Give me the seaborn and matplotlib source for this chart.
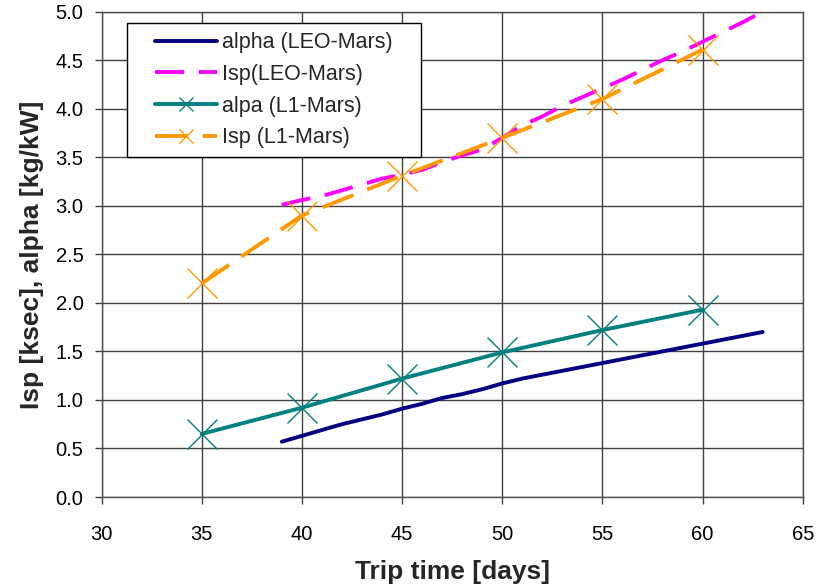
import matplotlib
matplotlib.use("Agg")
import matplotlib.pyplot as plt
from matplotlib.patches import Rectangle
import seaborn as sns
import numpy as np

# Data
days_leo = [39, 40, 41, 42, 43, 44, 45, 46, 47, 48, 49, 50, 51, 52, 53, 54, 55, 56, 57, 58, 59, 60, 61, 62, 63]
alpha_leo = [0.57, 0.63, 0.69, 0.75, 0.80, 0.85, 0.91, 0.96, 1.02, 1.06, 1.11, 1.17, 1.22, 1.26, 1.30, 1.34, 1.38, 1.42, 1.46, 1.50, 1.54, 1.58, 1.62, 1.66, 1.70]
isp_leo = [3.01, 3.06, 3.10, 3.16, 3.22, 3.28, 3.32, 3.37, 3.45, 3.52, 3.58, 3.70, 3.83, 3.92, 4.03, 4.12, 4.21, 4.30, 4.40, 4.50, 4.59, 4.69, 4.79, 4.89, 5.00]

days_l1 = [35, 40, 45, 50, 55, 60]
alpha_l1 = [0.65, 0.92, 1.22, 1.49, 1.72, 1.93]
isp_l1 = [2.20, 2.90, 3.31, 3.70, 4.10, 4.61]

x_ticks = [30, 35, 40, 45, 50, 55, 60, 65]
y_ticks = [0.0, 0.5, 1.0, 1.5, 2.0, 2.5, 3.0, 3.5, 4.0, 4.5, 5.0]

sns.set_style("white")
plt.rcParams['font.family'] = ['Liberation Sans', 'DejaVu Sans']

fig = plt.figure(figsize=(8.16, 5.87), dpi=100)
ax = fig.add_axes([0.1244, 0.1533, 0.8593, 0.8268])

LW = 2.8
sns.lineplot(x=days_leo, y=alpha_leo, ax=ax, color='#000080', lw=LW,
             label='alpha (LEO-Mars)', solid_capstyle='round')
sns.lineplot(x=days_leo, y=isp_leo, ax=ax, color='#FF00FF', lw=LW,
             label='Isp(LEO-Mars)')
ax.lines[-1].set_dashes([7.5, 3.8])
sns.lineplot(x=days_l1, y=alpha_l1, ax=ax, color='#008080', lw=LW,
             marker='x', markersize=21, markeredgewidth=1.0,
             markeredgecolor='#008080', label='alpa (L1-Mars)')
sns.lineplot(x=days_l1, y=isp_l1, ax=ax, color='#FF9900', lw=LW,
             marker='x', markersize=21, markeredgewidth=1.0,
             markeredgecolor='#FF9900', label='Isp (L1-Mars)')
ax.lines[-1].set_dashes([8.5, 3.8])

ax.set_xlim(30, 65)
ax.set_ylim(0, 5)
ax.set_xticks(x_ticks)
ax.set_yticks(y_ticks)
ax.set_yticklabels([f"{v:.1f}" for v in y_ticks])
ax.grid(True, color='#404040', lw=1.0)
ax.set_axisbelow(True)
for s in ['top', 'right', 'left', 'bottom']:
    ax.spines[s].set_color('#505050')
    ax.spines[s].set_linewidth(1.0)
ax.tick_params(axis='both', direction='out', length=5, width=1, colors='#404040',
               labelsize=14.5, labelcolor='black', left=True, bottom=True)
ax.tick_params(axis='x', pad=15)
ax.tick_params(axis='y', pad=8)

ax.set_xlabel('Trip time [days]', fontsize=19, fontweight='bold', labelpad=12)
ax.set_ylabel('Isp [ksec], alpha [kg/kW]', fontsize=19, fontweight='bold', labelpad=8)

# legend box
ax.add_patch(Rectangle((0.0364, 0.7006), 0.4193, 0.2761, transform=ax.transAxes,
                       facecolor='white', edgecolor='black', lw=1.0, zorder=4))
leg = ax.legend(loc='upper left', bbox_to_anchor=(0.0763, 0.958), fontsize=15.5,
                frameon=False, handlelength=2.88, handletextpad=0.25,
                borderpad=0, borderaxespad=0, labelspacing=0.5, markerscale=0.5)
leg.set_zorder(5)

fig.savefig('out.png', dpi=100)
